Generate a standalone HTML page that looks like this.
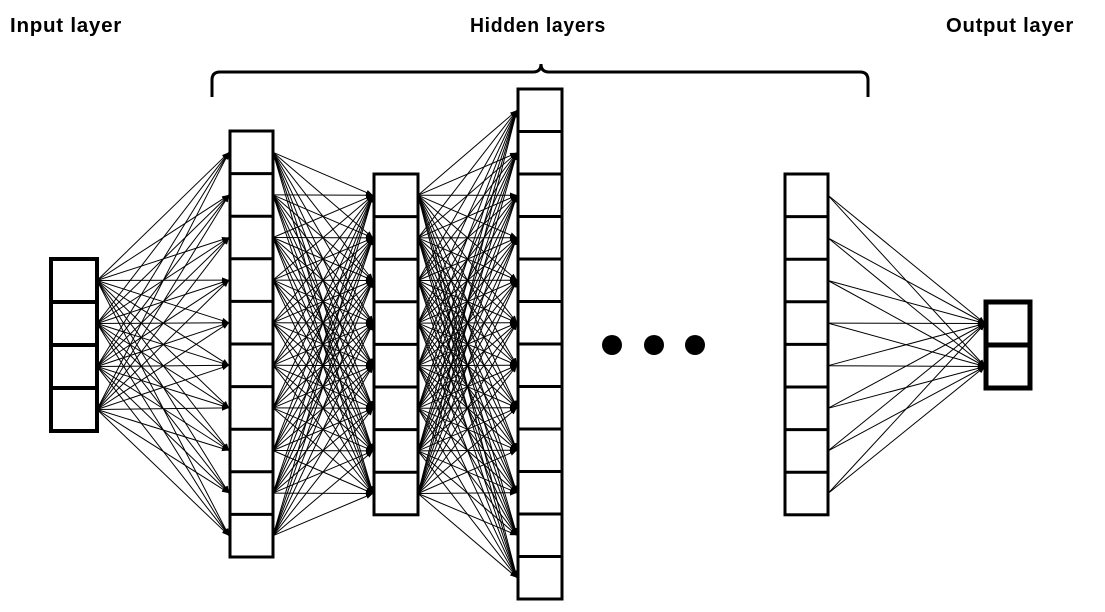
<!DOCTYPE html>
<html><head><meta charset="utf-8"><style>
html,body{margin:0;padding:0;background:#fff;width:1105px;height:612px;overflow:hidden}
svg{display:block}
text{font-family:"Liberation Sans",sans-serif;font-weight:bold;font-size:20px;letter-spacing:0.7px;fill:#000}
</style></head><body>
<svg id="s" width="1105" height="612" xmlns="http://www.w3.org/2000/svg">
<defs><marker id="a" viewBox="0 0 10 10" refX="10" refY="5" markerWidth="7" markerHeight="7" markerUnits="userSpaceOnUse" orient="auto"><path d="M0,1 L10,5 L0,9 z" fill="#000"/></marker></defs>
<text x="10" y="32" textLength="112" lengthAdjust="spacingAndGlyphs">Input layer</text>
<text x="470" y="32" textLength="136" lengthAdjust="spacingAndGlyphs">Hidden layers</text>
<text x="946" y="32" textLength="128" lengthAdjust="spacingAndGlyphs">Output layer</text>
<path d="M212,97 L212,80 Q212,72 220,72 L533,72 Q541,72 541,64 Q541,72 549,72 L860,72 Q868,72 868,80 L868,97" fill="none" stroke="#000" stroke-width="3"/>
<circle cx="612" cy="345" r="10"/><circle cx="654" cy="345" r="10"/><circle cx="695" cy="345" r="10"/>
<g id="lines" stroke="#000" stroke-width="1"></g>
<g id="boxes"></g>
</svg>
<script>
var L=[{x:51,w:46,y:259,n:4,h:43,t:4},{x:230,w:43,y:131,n:10,h:42.6,t:3},{x:374,w:44,y:174,n:8,h:42.6,t:3},{x:518,w:44,y:89,n:12,h:42.5,t:3},{x:785,w:43,y:174,n:8,h:42.6,t:3},{x:986,w:44,y:302,n:2,h:43,t:5}];
var ns="http://www.w3.org/2000/svg",lg=document.getElementById('lines'),bg=document.getElementById('boxes');
function el(p,n,a){var e=document.createElementNS(ns,n);for(var k in a)e.setAttribute(k,a[k]);p.appendChild(e);return e;}
function c(l,i){return l.y+l.h*(i+0.5);}
var pairs=[[0,1],[1,2],[2,3],[4,5]];
pairs.forEach(function(p){var A=L[p[0]],B=L[p[1]];for(var i=0;i<A.n;i++)for(var j=0;j<B.n;j++)el(lg,'line',{x1:A.x+A.w,y1:c(A,i),x2:B.x-1,y2:c(B,j),'marker-end':'url(#a)'});});
L.forEach(function(l){el(bg,'rect',{x:l.x,y:l.y,width:l.w,height:l.h*l.n,fill:'#fff',stroke:'#000','stroke-width':l.t});for(var i=1;i<l.n;i++)el(bg,'line',{x1:l.x,x2:l.x+l.w,y1:l.y+l.h*i,y2:l.y+l.h*i,stroke:'#000','stroke-width':l.t});});
</script>
</body></html>
